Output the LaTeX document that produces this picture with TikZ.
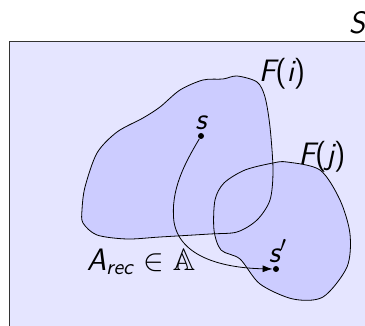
\documentclass[tikz,border=0pt]{standalone}
\usepackage{fix-cm}
\usepackage{amsmath,amssymb}
\usepackage{fontspec}
\usepackage{tikz}
\usetikzlibrary{arrows.meta,positioning}
\newcommand{\mv}[1]{{\sffamily\itshape #1}}

\begin{document}
\begin{tikzpicture}[x=0.5pt, y=-0.5pt,
          space/.style={draw=black!80, thin, fill=blue!10},
          region/.style={fill=blue!20},
          outline/.style={draw=black, thin},
          dot/.style={circle, fill=black, inner sep=0pt, minimum size=3pt},
          lbl/.style={font=\fontsize{15.5}{18}\selectfont\sffamily, inner sep=1pt},
          arr/.style={-{Latex[length=5pt, width=3.5pt]}, thin}
        ]
          \useasboundingbox (0,0) rectangle (365,326);
          \clip (0,0) rectangle (365,326);
          % state space
          \draw[space] (9,41) rectangle (380,340);
          \node[lbl] (S) at (357,23) {\mv{S}};
          % the two regions
          \def\regioni{(82,210) (85,187) (97,153) (117,132) (143,118) (160,107)
            (180,90) (203,80) (223,79) (237,76) (257,82) (265,97) (270,127)
            (273,170) (270,200) (257,220) (237,232) (210,234) (160,237)
            (127,239) (97,235) (83,223)}
          \def\regionj{(287,162) (320,170) (340,200) (350,234) (347,267)
            (323,297) (293,299) (260,284) (240,259) (221,250) (214,230)
            (215,200) (224,183) (245,170) (273,163)}
          \fill[region] plot[smooth cycle, tension=0.5] coordinates {\regioni};
          \fill[region] plot[smooth cycle, tension=0.5] coordinates {\regionj};
          \draw[outline] plot[smooth cycle, tension=0.5] coordinates {\regioni};
          \draw[outline] plot[smooth cycle, tension=0.5] coordinates {\regionj};
          \node[lbl] (Fi) at (282,74) {\mv{F}(\mv{i})};
          \node[lbl] (Fj) at (322,157) {\mv{F}(\mv{j})};
          % states and recovery action
          \node[dot] (s) at (201,136) {};
          \node[lbl, above=0pt of s] (slbl) {\mv{s}};
          \node[dot] (sp) at (276,269) {};
          \node[lbl, above=0pt of sp, xshift=1pt] (splbl) {\mv{s}$'$};
          \node[lbl] (arec) at (141,262) {\mv{A}$_{\text{\mv{rec}}}$ $\in \mathbb{A}$};
          \draw[arr] (s) .. controls (185,163) and (170,190) .. (174,222)
            .. controls (180,258) and (225,268) .. (sp.west);
        \end{tikzpicture}
\end{document}
